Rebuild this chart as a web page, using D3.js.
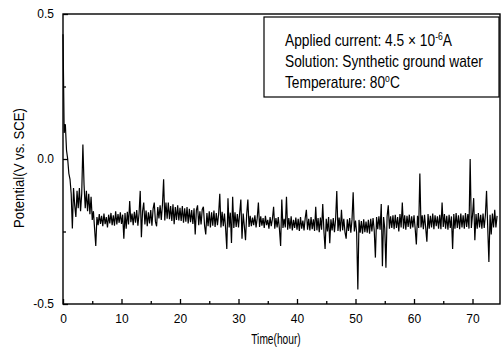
<!DOCTYPE html>
<html>
<head>
<meta charset="utf-8">
<script src="https://cdnjs.cloudflare.com/ajax/libs/d3/7.8.5/d3.min.js"></script>
<style>
  body { margin: 0; background: #fff; }
  svg { display: block; }
</style>
</head>
<body>
<script>
// sampling of the potential record (hours between points)
var sampleStart = 0,
    sampleStep = 0.2;

// potential, V vs. SCE, one value every 0.2 h
var potential = [
  0.430, 0.090, 0.120, 0.030, 0.000, -0.050, -0.070, -0.120, -0.240, -0.100,
  -0.160, -0.200, -0.110, -0.170, -0.100, -0.180, -0.120, 0.050, -0.090, -0.170,
  -0.110, -0.180, -0.120, -0.190, -0.130, -0.210, -0.180, -0.240, -0.300, -0.200,
  -0.228, -0.190, -0.224, -0.196, -0.232, -0.188, -0.225, -0.200, -0.236, -0.192,
  -0.222, -0.186, -0.228, -0.194, -0.230, -0.180, -0.226, -0.190, -0.220, -0.184,
  -0.224, -0.192, -0.275, -0.186, -0.240, -0.182, -0.226, -0.145, -0.218, -0.188,
  -0.228, -0.182, -0.220, -0.176, -0.230, -0.188, -0.110, -0.270, -0.180, -0.150,
  -0.226, -0.178, -0.232, -0.184, -0.222, -0.176, -0.230, -0.172, -0.150, -0.216,
  -0.232, -0.166, -0.205, -0.160, -0.210, -0.158, -0.070, -0.212, -0.150, -0.206,
  -0.150, -0.208, -0.162, -0.214, -0.156, -0.225, -0.166, -0.210, -0.160, -0.212,
  -0.168, -0.214, -0.162, -0.220, -0.170, -0.216, -0.166, -0.222, -0.172, -0.218,
  -0.176, -0.224, -0.170, -0.260, -0.176, -0.160, -0.228, -0.180, -0.226, -0.174,
  -0.165, -0.230, -0.260, -0.186, -0.232, -0.180, -0.236, -0.184, -0.230, -0.178,
  -0.234, -0.186, -0.228, -0.190, -0.120, -0.236, -0.182, -0.232, -0.188, -0.240,
  -0.310, -0.135, -0.236, -0.185, -0.290, -0.130, -0.238, -0.184, -0.234, -0.190,
  -0.236, -0.186, -0.140, -0.275, -0.188, -0.232, -0.280, -0.190, -0.140, -0.234,
  -0.196, -0.232, -0.202, -0.228, -0.194, -0.236, -0.204, -0.150, -0.234, -0.198,
  -0.230, -0.204, -0.238, -0.196, -0.228, -0.210, -0.240, -0.200, -0.232, -0.206,
  -0.165, -0.240, -0.204, -0.236, -0.200, -0.242, -0.300, -0.140, -0.238, -0.206,
  -0.236, -0.130, -0.244, -0.204, -0.240, -0.198, -0.246, -0.210, -0.238, -0.202,
  -0.244, -0.206, -0.248, -0.200, -0.240, -0.212, -0.246, -0.204, -0.175, -0.244,
  -0.206, -0.246, -0.200, -0.242, -0.208, -0.248, -0.165, -0.246, -0.204, -0.252,
  -0.202, -0.244, -0.155, -0.248, -0.310, -0.206, -0.250, -0.200, -0.290, -0.208,
  -0.246, -0.204, -0.252, -0.208, -0.110, -0.248, -0.202, -0.250, -0.175, -0.246,
  -0.206, -0.252, -0.275, -0.208, -0.248, -0.204, -0.254, -0.210, -0.115, -0.250,
  -0.212, -0.256, -0.450, -0.210, -0.254, -0.214, -0.258, -0.208, -0.252, -0.216,
  -0.254, -0.210, -0.258, -0.206, -0.250, -0.204, -0.246, -0.340, -0.200, -0.242,
  -0.198, -0.244, -0.155, -0.370, -0.200, -0.240, -0.375, -0.198, -0.160, -0.240,
  -0.198, -0.238, -0.194, -0.242, -0.192, -0.238, -0.200, -0.250, -0.190, -0.236,
  -0.150, -0.240, -0.194, -0.244, -0.196, -0.234, -0.192, -0.240, -0.198, -0.236,
  -0.194, -0.240, -0.295, -0.196, -0.238, -0.050, -0.236, -0.194, -0.242, -0.192,
  -0.238, -0.285, -0.190, -0.240, -0.196, -0.236, -0.188, -0.242, -0.194, -0.232,
  -0.198, -0.240, -0.192, -0.242, -0.150, -0.234, -0.190, -0.240, -0.196, -0.244,
  -0.192, -0.238, -0.198, -0.310, -0.190, -0.240, -0.186, -0.238, -0.194, -0.242,
  -0.188, -0.236, -0.194, -0.240, -0.186, -0.234, -0.190, -0.240, 0.000, -0.238,
  -0.194, -0.135, -0.280, -0.190, -0.240, -0.186, -0.236, -0.192, -0.240, -0.188,
  -0.238, -0.194, -0.110, -0.234, -0.355, -0.192, -0.260, -0.188, -0.236, -0.175,
  -0.236, -0.196
];

var xMajor = [0, 10, 20, 30, 40, 50, 60, 70],
    xMinor = [5, 15, 25, 35, 45, 55, 65],
    yMajor = [-0.5, 0.0, 0.5],
    yMinor = [-0.25, 0.25];

var legendLines = [
    ["Applied current: 4.5 \u00d7 10", "-6", "A"],
    ["Solution: Synthetic ground water"],
    ["Temperature: 80", "o", "C"]
];

var W = 503, H = 347;
var margin = { top: 14, right: 3, bottom: 43, left: 63 },
    width = W - margin.left - margin.right,
    height = H - margin.top - margin.bottom;

var svg = d3.select("body").append("svg")
    .attr("width", W)
    .attr("height", H);

var g = svg.append("g")
    .attr("transform", "translate(" + margin.left + "," + margin.top + ")");

var x = d3.scaleLinear().domain([0, 74.7]).range([0, width]);
var y = d3.scaleLinear().domain([-0.5, 0.5]).range([height, 0]);

var font = "'Liberation Sans', Arial, sans-serif";

// data line
var series = potential.map(function (v, i) {
    return { t: sampleStart + i * sampleStep, v: v };
});

var line = d3.line()
    .x(function (d) { return x(d.t); })
    .y(function (d) { return y(d.v); });

g.append("path")
    .datum(series)
    .attr("fill", "none")
    .attr("stroke", "#000")
    .attr("stroke-width", 1.2)
    .attr("d", line);

// frame
g.append("rect")
    .attr("x", 0).attr("y", 0)
    .attr("width", width).attr("height", height)
    .attr("fill", "none")
    .attr("stroke", "#000")
    .attr("stroke-width", 1.4);

// axes, ticks pointing inward
g.append("g")
    .attr("transform", "translate(0," + height + ")")
    .call(d3.axisBottom(x).tickValues(xMajor).tickSizeInner(-5).tickSizeOuter(0).tickPadding(10)
        .tickFormat(function (d) { return d; }));
g.append("g")
    .attr("transform", "translate(0," + height + ")")
    .call(d3.axisBottom(x).tickValues(xMinor).tickSizeInner(-3).tickSizeOuter(0).tickFormat(""));

g.append("g")
    .call(d3.axisLeft(y).tickValues(yMajor).tickSizeInner(-5).tickSizeOuter(0).tickPadding(9)
        .tickFormat(function (d) { return d.toFixed(1); }));
g.append("g")
    .call(d3.axisLeft(y).tickValues(yMinor).tickSizeInner(-3).tickSizeOuter(0).tickFormat(""));

g.selectAll(".domain").remove();
g.selectAll(".tick line").attr("stroke", "#000").attr("stroke-width", 1.3);
g.selectAll(".tick text")
    .attr("fill", "#000")
    .style("font-family", font)
    .style("font-size", "12px");

// axis titles (the source lettering is condensed)
svg.append("g")
    .attr("transform", "translate(276,344) scale(0.68,1)")
    .append("text")
    .attr("text-anchor", "middle")
    .style("font-family", font)
    .style("font-size", "15px")
    .text("Time(hour)");

svg.append("g")
    .attr("transform", "translate(24,168) rotate(-90) scale(0.94,1)")
    .append("text")
    .attr("text-anchor", "middle")
    .style("font-family", font)
    .style("font-size", "14px")
    .text("Potential(V vs. SCE)");

// legend box
svg.append("rect")
    .attr("x", 264).attr("y", 17)
    .attr("width", 235).attr("height", 80)
    .attr("fill", "#fff")
    .attr("stroke", "#000")
    .attr("stroke-width", 1.2);

var legendBase = [46, 67, 88];
var legend = svg.append("g")
    .attr("transform", "translate(285,0) scale(0.86,1)");

legendLines.forEach(function (parts, i) {
    var t = legend.append("text")
        .attr("x", 0)
        .attr("y", legendBase[i])
        .style("font-family", font)
        .style("font-size", "16px");
    t.append("tspan").text(parts[0]);
    if (parts.length > 1) {
        t.append("tspan")
            .attr("dy", -6)
            .style("font-size", "10px")
            .text(parts[1]);
        t.append("tspan")
            .attr("dy", 6)
            .text(parts[2]);
    }
});
</script>
</body>
</html>
